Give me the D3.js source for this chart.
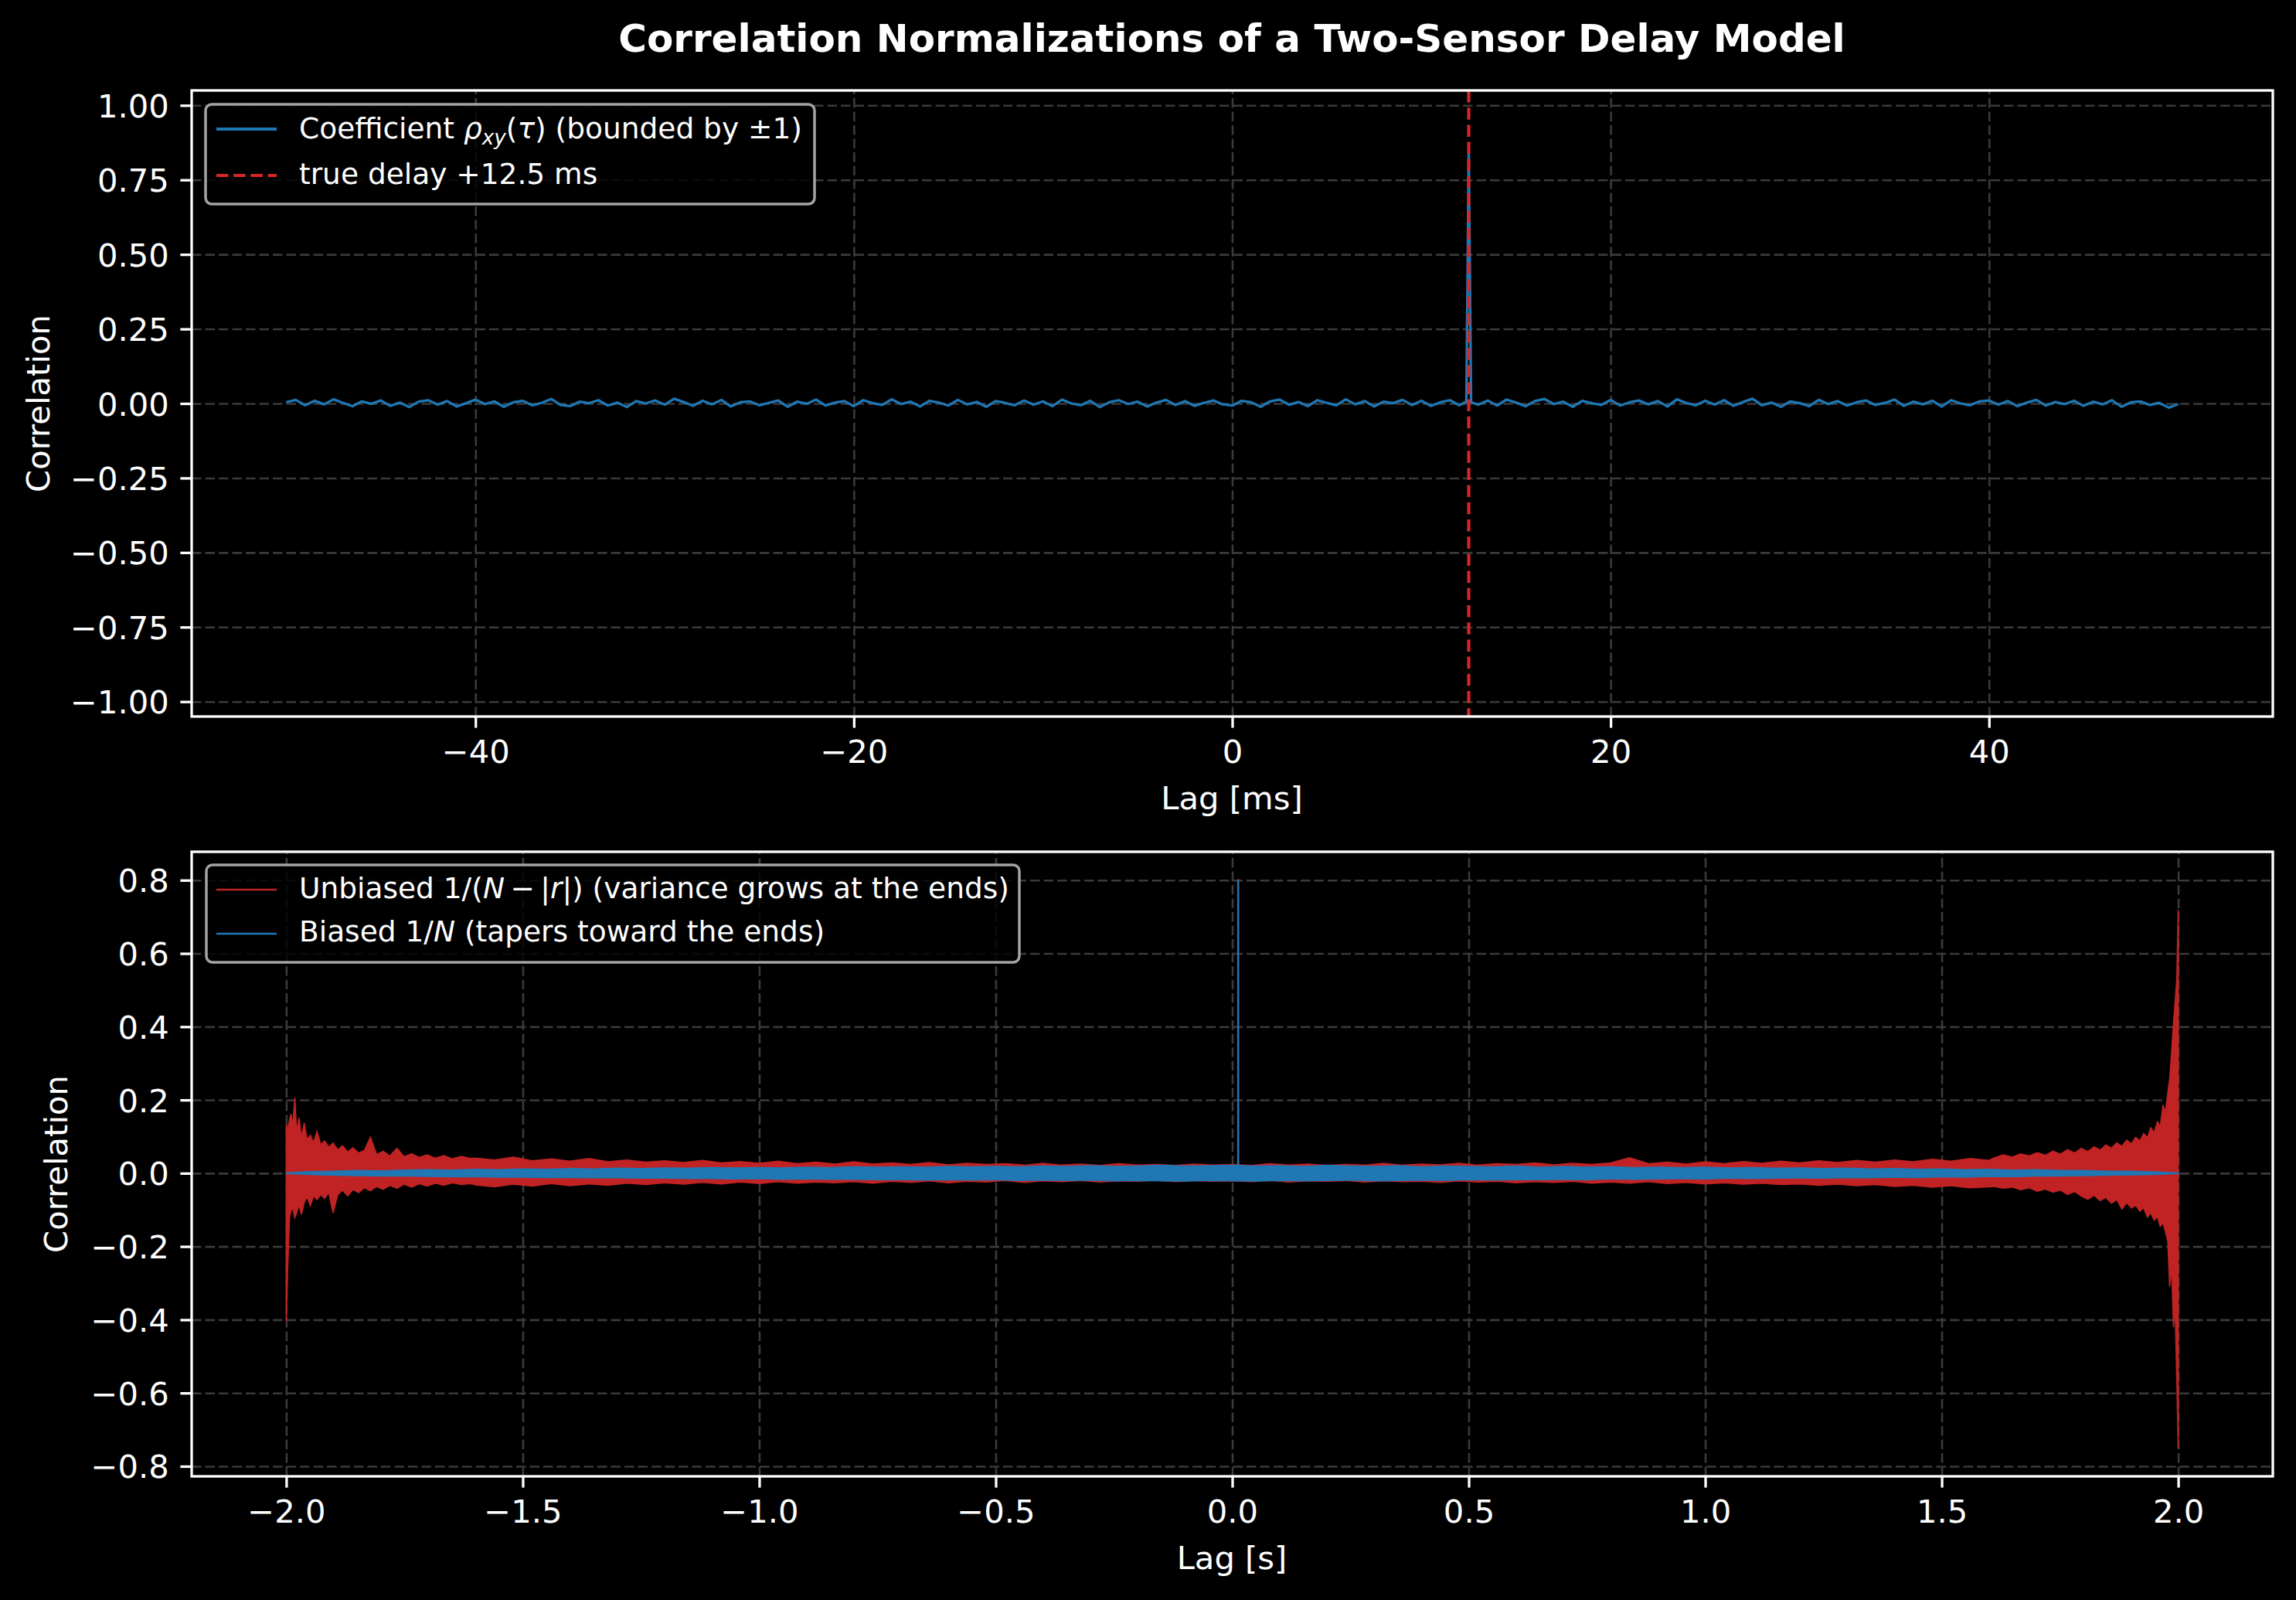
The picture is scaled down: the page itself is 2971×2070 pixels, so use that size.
<!DOCTYPE html>
<html lang="en">
<head>
<meta charset="UTF-8">
<title>Correlation Normalizations of a Two-Sensor Delay Model</title>
<script src="https://cdn.jsdelivr.net/npm/d3@7"></script>
<style>
  html, body { margin: 0; padding: 0; background: #000; }
  svg { display: block; }
  text { font-family: "DejaVu Sans", sans-serif; fill: #fff; }
</style>
</head>
<body>
<svg id="chart" width="2971" height="2070"></svg>
<script>
// ---- data ----

// top panel: correlation coefficient, lag -50..50 ms every 0.5 ms
const rhoLagStart = -50, rhoLagStep = 0.5;
const rhoValues = [
  0.004, 0.012, -0.006, 0.009, -0.003, 0.014, 0.002, -0.009, 0.007, -0.001,
  0.010, -0.008, 0.003, -0.012, 0.006, 0.011, -0.004, 0.008, -0.010, 0.001,
  0.013, -0.002, 0.007, -0.011, 0.004, 0.009, -0.006, 0.002, 0.015, -0.005,
  -0.009, 0.006, 0.001, 0.011, -0.007, 0.003, -0.012, 0.008, 0.000, 0.010,
  -0.004, 0.016, 0.005, -0.008, 0.009, -0.003, 0.012, -0.010, 0.004, 0.007,
  -0.006, 0.002, 0.010, -0.011, 0.006, -0.001, 0.013, -0.007, 0.003, 0.008,
  -0.009, 0.011, 0.001, -0.005, 0.014, -0.002, 0.006, -0.010, 0.009, 0.003,
  -0.007, 0.012, -0.003, 0.005, -0.011, 0.008, 0.002, -0.006, 0.010, -0.004,
  0.007, -0.009, 0.013, 0.000, -0.006, 0.009, -0.012, 0.004, 0.011, -0.002,
  0.006, -0.010, 0.003, 0.012, -0.005, 0.008, -0.008, 0.002, 0.010, -0.003,
  -0.007, 0.009, 0.004, -0.011, 0.007, 0.013, -0.004, 0.005, -0.009, 0.011,
  0.002, -0.006, 0.014, -0.003, 0.008, -0.010, 0.006, 0.001, 0.012, -0.005,
  0.009, -0.008, 0.004, 0.011, -0.006, 0.850, -0.004, 0.010, -0.007, 0.013,
  0.003, -0.009, 0.008, 0.015, -0.002, 0.006, -0.011, 0.009, 0.001, -0.005,
  0.012, -0.007, 0.004, 0.010, -0.003, 0.008, -0.010, 0.014, 0.002, -0.006,
  0.009, -0.004, 0.011, -0.008, 0.005, 0.016, -0.006, 0.003, -0.011, 0.007,
  0.001, -0.009, 0.012, -0.002, 0.008, -0.007, 0.004, 0.010, -0.005, 0.002,
  0.013, -0.008, 0.006, -0.003, 0.009, -0.010, 0.011, 0.000, -0.006, 0.007,
  0.010, -0.004, 0.008, -0.009, 0.003, 0.012, -0.007, 0.005, -0.002, 0.009,
  -0.008, 0.006, -0.003, 0.011, -0.011, 0.004, 0.007, -0.005, 0.002, -0.014,
  -0.002
];
// extra samples either side of the peak (the peak is only one sample wide)
const rhoShoulderLag = [12.375, 12.625];
const rhoShoulderValue = [0.006, 0.004];
const trueDelayMs = 12.5;

// bottom panel, unbiased estimate: envelope (max / min) of the dense trace
const unbLeftLag = [-2.000, -1.997, -1.993, -1.990, -1.986, -1.982, -1.978, -1.973, -1.968, -1.962,
  -1.956, -1.949, -1.942, -1.935, -1.927, -1.919, -1.910, -1.901, -1.891, -1.881,
  -1.870, -1.859, -1.847, -1.835, -1.822, -1.809, -1.795, -1.781, -1.766, -1.751,
  -1.735, -1.719, -1.702, -1.685, -1.667, -1.649, -1.630, -1.611];
const unbLeftHi = [0.133, 0.118, 0.145, 0.162, 0.128, 0.206, 0.112, 0.151, 0.098, 0.137,
  0.091, 0.104, 0.083, 0.114, 0.078, 0.088, 0.071, 0.082, 0.064, 0.075,
  0.058, 0.069, 0.055, 0.062, 0.098, 0.051, 0.060, 0.047, 0.068, 0.045,
  0.053, 0.043, 0.050, 0.041, 0.048, 0.039, 0.046, 0.040];
const unbLeftLo = [-0.404, -0.260, -0.118, -0.102, -0.095, -0.121, -0.108, -0.085, -0.113, -0.079,
  -0.064, -0.088, -0.061, -0.072, -0.058, -0.069, -0.052, -0.108, -0.058, -0.046,
  -0.062, -0.044, -0.053, -0.039, -0.048, -0.036, -0.044, -0.033, -0.041, -0.030,
  -0.038, -0.029, -0.035, -0.027, -0.033, -0.026, -0.031, -0.028];

// middle part, lag -1.60..1.60 s every 0.04 s
const unbMidStart = -1.6, unbMidStep = 0.04;
const unbMidHi = [
  0.041, 0.036, 0.044, 0.034, 0.039, 0.033, 0.040, 0.031, 0.036, 0.030,
  0.034, 0.029, 0.035, 0.028, 0.032, 0.027, 0.033, 0.026, 0.030, 0.025,
  0.031, 0.025, 0.028, 0.024, 0.029, 0.023, 0.027, 0.024, 0.026, 0.022,
  0.027, 0.022, 0.025, 0.021, 0.026, 0.022, 0.024, 0.021, 0.025, 0.022,
  0.024, 0.021, 0.026, 0.022, 0.025, 0.021, 0.024, 0.022, 0.027, 0.022,
  0.025, 0.023, 0.027, 0.022, 0.026, 0.024, 0.028, 0.023, 0.027, 0.024,
  0.028, 0.042, 0.026, 0.030, 0.025, 0.031, 0.026, 0.032, 0.027, 0.033,
  0.028, 0.034, 0.029, 0.035, 0.030, 0.036, 0.031, 0.038, 0.033, 0.040,
  0.035
];
const unbMidLo = [
  -0.032, -0.037, -0.030, -0.035, -0.028, -0.034, -0.029, -0.033, -0.027, -0.031,
  -0.026, -0.030, -0.025, -0.029, -0.024, -0.028, -0.023, -0.027, -0.024, -0.026,
  -0.023, -0.027, -0.022, -0.025, -0.021, -0.026, -0.022, -0.024, -0.020, -0.025,
  -0.021, -0.023, -0.020, -0.024, -0.021, -0.022, -0.019, -0.023, -0.020, -0.022,
  -0.021, -0.023, -0.020, -0.024, -0.021, -0.022, -0.020, -0.024, -0.021, -0.023,
  -0.022, -0.025, -0.021, -0.024, -0.022, -0.026, -0.023, -0.025, -0.022, -0.027,
  -0.024, -0.027, -0.023, -0.028, -0.025, -0.029, -0.026, -0.030, -0.027, -0.031,
  -0.029, -0.033, -0.030, -0.034, -0.031, -0.036, -0.033, -0.038, -0.034, -0.040,
  -0.037
];

const unbRightLag = [1.611, 1.630, 1.649, 1.667, 1.685, 1.702, 1.719, 1.735, 1.751, 1.766,
  1.781, 1.795, 1.809, 1.822, 1.835, 1.847, 1.859, 1.870, 1.881, 1.891,
  1.901, 1.910, 1.919, 1.927, 1.935, 1.942, 1.949, 1.956, 1.962, 1.968,
  1.973, 1.978, 1.982, 1.986, 1.990, 1.993, 1.997, 2.000];
const unbRightHi = [0.042, 0.050, 0.044, 0.053, 0.047, 0.056, 0.049, 0.060, 0.052, 0.064,
  0.055, 0.068, 0.059, 0.072, 0.063, 0.077, 0.068, 0.083, 0.073, 0.090,
  0.080, 0.098, 0.088, 0.108, 0.097, 0.124, 0.110, 0.140, 0.128, 0.186,
  0.165, 0.220, 0.258, 0.330, 0.410, 0.460, 0.530, 0.720];
const unbRightLo = [-0.036, -0.041, -0.038, -0.045, -0.040, -0.049, -0.043, -0.052, -0.046, -0.058,
  -0.050, -0.062, -0.071, -0.060, -0.075, -0.066, -0.082, -0.072, -0.098, -0.080,
  -0.095, -0.087, -0.104, -0.094, -0.120, -0.108, -0.128, -0.118, -0.145, -0.135,
  -0.160, -0.185, -0.310, -0.250, -0.420, -0.350, -0.560, -0.750];

// bottom panel, biased estimate: envelope, lag -2..2 s every 0.05 s
const biasStart = -2, biasStep = 0.05;
const biasHi = [
  0.001, 0.005, 0.006, 0.008, 0.007, 0.009, 0.010, 0.009, 0.011, 0.010,
  0.012, 0.011, 0.013, 0.012, 0.014, 0.013, 0.015, 0.014, 0.016, 0.015,
  0.016, 0.015, 0.017, 0.016, 0.018, 0.017, 0.018, 0.017, 0.019, 0.018,
  0.019, 0.018, 0.020, 0.019, 0.021, 0.019, 0.020, 0.022, 0.020, 0.021,
  0.022, 0.020, 0.021, 0.019, 0.022, 0.020, 0.019, 0.021, 0.018, 0.020,
  0.019, 0.018, 0.020, 0.017, 0.019, 0.017, 0.018, 0.016, 0.017, 0.016,
  0.017, 0.015, 0.016, 0.014, 0.015, 0.013, 0.014, 0.012, 0.013, 0.011,
  0.012, 0.010, 0.011, 0.009, 0.010, 0.008, 0.008, 0.006, 0.006, 0.004,
  0.001
];
const biasLo = [
  -0.001, -0.004, -0.006, -0.007, -0.008, -0.008, -0.009, -0.010, -0.010, -0.011,
  -0.011, -0.012, -0.012, -0.013, -0.013, -0.014, -0.014, -0.015, -0.015, -0.016,
  -0.015, -0.017, -0.016, -0.017, -0.017, -0.018, -0.018, -0.019, -0.018, -0.019,
  -0.018, -0.020, -0.019, -0.020, -0.019, -0.021, -0.020, -0.021, -0.022, -0.020,
  -0.021, -0.022, -0.020, -0.021, -0.020, -0.019, -0.021, -0.020, -0.019, -0.020,
  -0.018, -0.019, -0.018, -0.018, -0.017, -0.018, -0.016, -0.017, -0.016, -0.015,
  -0.016, -0.014, -0.015, -0.014, -0.013, -0.014, -0.012, -0.013, -0.011, -0.012,
  -0.010, -0.011, -0.009, -0.010, -0.008, -0.008, -0.007, -0.006, -0.005, -0.004,
  -0.001
];
// the correlation peak at the true delay (12.5 ms = 0.0125 s)
const peakLagS = 0.0125;
const biasPeak = 0.800;
const unbPeak = 0.803;

// ticks
const topXTicks = [-40, -20, 0, 20, 40];
const topYTicks = [-1, -0.75, -0.5, -0.25, 0, 0.25, 0.5, 0.75, 1];
const botXTicks = [-2, -1.5, -1, -0.5, 0, 0.5, 1, 1.5, 2];
const botYTicks = [-0.8, -0.6, -0.4, -0.2, 0, 0.2, 0.4, 0.6, 0.8];

// ---- drawing ----
const BLUE = "#1f77b4", RED = "#d62728", RED_DIM = "#c12324";
const FONT = 41.7, LEG_FONT = 37.5, LW = 3.3;

const svg = d3.select("#chart");
svg.append("rect").attr("width", 2971).attr("height", 2070).attr("fill", "#000");

const xTop = d3.scaleLinear().domain([-55, 55]).range([248, 2941]);
const yTop = d3.scaleLinear().domain([-1.05, 1.05]).range([927, 117]);
const xBot = d3.scaleLinear().domain([-2.2, 2.2]).range([248, 2941]);
const yBot = d3.scaleLinear().domain([-0.8275, 0.8775]).range([1910, 1102]);

function frame(x, y, xTicks, yTicks, xFmt, yFmt, id) {
  const [x0, x1] = x.range(), [y1, y0] = y.range();
  const g = svg.append("g");

  // grid
  const gx = g.append("g").attr("transform", `translate(0,${y1})`)
    .call(d3.axisBottom(x).tickValues(xTicks).tickSize(-(y1 - y0)).tickFormat(""));
  const gy = g.append("g").attr("transform", `translate(${x0},0)`)
    .call(d3.axisLeft(y).tickValues(yTicks).tickSize(-(x1 - x0)).tickFormat(""));
  [gx, gy].forEach(s => {
    s.select(".domain").remove();
    s.selectAll("line").attr("stroke", "#3a3a3a").attr("stroke-width", 2.6)
      .attr("stroke-dasharray", "12.5,5");
  });

  // clip for data
  svg.append("clipPath").attr("id", id).append("rect")
    .attr("x", x0).attr("y", y0).attr("width", x1 - x0).attr("height", y1 - y0);

  return { g, x0, x1, y0, y1, draw() {
    const ax = svg.append("g").attr("transform", `translate(0,${y1})`)
      .call(d3.axisBottom(x).tickValues(xTicks).tickFormat(xFmt)
        .tickSizeInner(14.6).tickSizeOuter(0).tickPadding(15.8));
    const ay = svg.append("g").attr("transform", `translate(${x0},0)`)
      .call(d3.axisLeft(y).tickValues(yTicks).tickFormat(yFmt)
        .tickSizeInner(14.6).tickSizeOuter(0).tickPadding(14.6));
    [ax, ay].forEach(s => {
      s.attr("font-size", FONT).attr("font-family", "DejaVu Sans");
      s.select(".domain").remove();
      s.selectAll("line").attr("stroke", "#fff").attr("stroke-width", LW);
      s.selectAll("text").attr("fill", "#fff");
    });
    ay.selectAll("text").attr("dy", "0.36em");
    svg.append("rect").attr("x", x0).attr("y", y0)
      .attr("width", x1 - x0).attr("height", y1 - y0)
      .attr("fill", "none").attr("stroke", "#fff").attr("stroke-width", LW);
  }};
}

function legendBox(x, y, w, h) {
  svg.append("rect").attr("x", x).attr("y", y).attr("width", w).attr("height", h)
    .attr("rx", 8).attr("fill", "#000").attr("fill-opacity", 0.8)
    .attr("stroke", "#a3a3a3").attr("stroke-width", 3.5);
}
function handle(y, color, width, dash) {
  svg.append("line").attr("x1", 280).attr("x2", 358).attr("y1", y).attr("y2", y)
    .attr("stroke", color).attr("stroke-width", width)
    .attr("stroke-dasharray", dash || null);
}

// ===== top panel =====
const topPanel = frame(xTop, yTop, topXTicks, topYTicks, d3.format(".0f"), d3.format(".2f"), "clipTop");

const rhoPoints = rhoValues.map((v, i) => ({ lag: rhoLagStart + i * rhoLagStep, v }))
  .concat(rhoShoulderLag.map((l, i) => ({ lag: l, v: rhoShoulderValue[i] })))
  .sort((a, b) => a.lag - b.lag);

svg.append("path").datum(rhoPoints)
  .attr("clip-path", "url(#clipTop)")
  .attr("fill", "none").attr("stroke", BLUE).attr("stroke-width", 3.3)
  .attr("stroke-linejoin", "round")
  .attr("d", d3.line().x(d => xTop(d.lag)).y(d => yTop(d.v)));

svg.append("line")
  .attr("x1", xTop(trueDelayMs)).attr("x2", xTop(trueDelayMs))
  .attr("y1", topPanel.y0).attr("y2", topPanel.y1)
  .attr("stroke", RED).attr("stroke-width", 4.2).attr("stroke-dasharray", "15.5,6.7");

topPanel.draw();

legendBox(266, 135, 788, 129);
handle(167, BLUE, 4.2);
handle(227, RED, 4.2, "15.5,6.7");
{
  const t = svg.append("text").attr("x", 387).attr("y", 179).attr("font-size", LEG_FONT);
  t.append("tspan").text("Coefficient ");
  t.append("tspan").attr("font-style", "italic").text("\u03c1");
  t.append("tspan").attr("font-style", "italic").attr("font-size", LEG_FONT * 0.7).attr("dy", 8).text("xy");
  t.append("tspan").attr("dy", -8).text("(");
  t.append("tspan").attr("font-style", "italic").text("\u03c4");
  t.append("tspan").text(") (bounded by \u00b11)");
  svg.append("text").attr("x", 387).attr("y", 238).attr("font-size", LEG_FONT)
    .text("true delay +12.5 ms");
}

svg.append("text").attr("x", 1594).attr("y", 67).attr("text-anchor", "middle")
  .attr("font-size", 50).attr("font-weight", "bold")
  .text("Correlation Normalizations of a Two-Sensor Delay Model");
svg.append("text").attr("x", 1594).attr("y", 1047).attr("text-anchor", "middle")
  .attr("font-size", FONT).text("Lag [ms]");
svg.append("text").attr("transform", "translate(49,522) rotate(-90)")
  .attr("text-anchor", "middle").attr("dominant-baseline", "central")
  .attr("font-size", FONT).text("Correlation");

// ===== bottom panel =====
const botPanel = frame(xBot, yBot, botXTicks, botYTicks, d3.format(".1f"), d3.format(".1f"), "clipBot");

const unbPoints = unbLeftLag.map((l, i) => ({ lag: l, hi: unbLeftHi[i], lo: unbLeftLo[i] }))
  .concat(unbMidHi.map((h, i) => ({ lag: unbMidStart + i * unbMidStep, hi: h, lo: unbMidLo[i] })))
  .concat(unbRightLag.map((l, i) => ({ lag: l, hi: unbRightHi[i], lo: unbRightLo[i] })));

const band = d3.area().x(d => xBot(d.lag)).y0(d => yBot(d.lo)).y1(d => yBot(d.hi));

const gb = svg.append("g").attr("clip-path", "url(#clipBot)");
gb.append("path").datum(unbPoints)
  .attr("fill", RED_DIM).attr("stroke", RED_DIM).attr("stroke-width", 1.6)
  .attr("stroke-linejoin", "miter").attr("d", band);
gb.append("line")
  .attr("x1", xBot(peakLagS)).attr("x2", xBot(peakLagS))
  .attr("y1", yBot(0)).attr("y2", yBot(unbPeak))
  .attr("stroke", RED_DIM).attr("stroke-width", 2.4);

const biasPoints = biasHi.map((h, i) => ({ lag: biasStart + i * biasStep, hi: h, lo: biasLo[i] }));
gb.append("path").datum(biasPoints)
  .attr("fill", BLUE).attr("stroke", BLUE).attr("stroke-width", 1.2).attr("d", band);
gb.append("line")
  .attr("x1", xBot(peakLagS)).attr("x2", xBot(peakLagS))
  .attr("y1", yBot(0)).attr("y2", yBot(biasPeak))
  .attr("stroke", BLUE).attr("stroke-width", 2.4);

botPanel.draw();

legendBox(267, 1119, 1052, 126);
handle(1151, RED_DIM, 2.4);
handle(1208, BLUE, 2.4);
{
  const t = svg.append("text").attr("x", 387).attr("y", 1162).attr("font-size", LEG_FONT);
  t.append("tspan").text("Unbiased 1/(");
  t.append("tspan").attr("font-style", "italic").text("N");
  t.append("tspan").text("\u2009\u2212\u2009|");
  t.append("tspan").attr("font-style", "italic").text("r");
  t.append("tspan").text("|) (variance grows at the ends)");
  const t2 = svg.append("text").attr("x", 387).attr("y", 1218).attr("font-size", LEG_FONT);
  t2.append("tspan").text("Biased 1/");
  t2.append("tspan").attr("font-style", "italic").text("N");
  t2.append("tspan").text(" (tapers toward the ends)");
}

svg.append("text").attr("x", 1594).attr("y", 2030).attr("text-anchor", "middle")
  .attr("font-size", FONT).text("Lag [s]");
svg.append("text").attr("transform", "translate(72,1506) rotate(-90)")
  .attr("text-anchor", "middle").attr("dominant-baseline", "central")
  .attr("font-size", FONT).text("Correlation");
</script>
</body>
</html>
